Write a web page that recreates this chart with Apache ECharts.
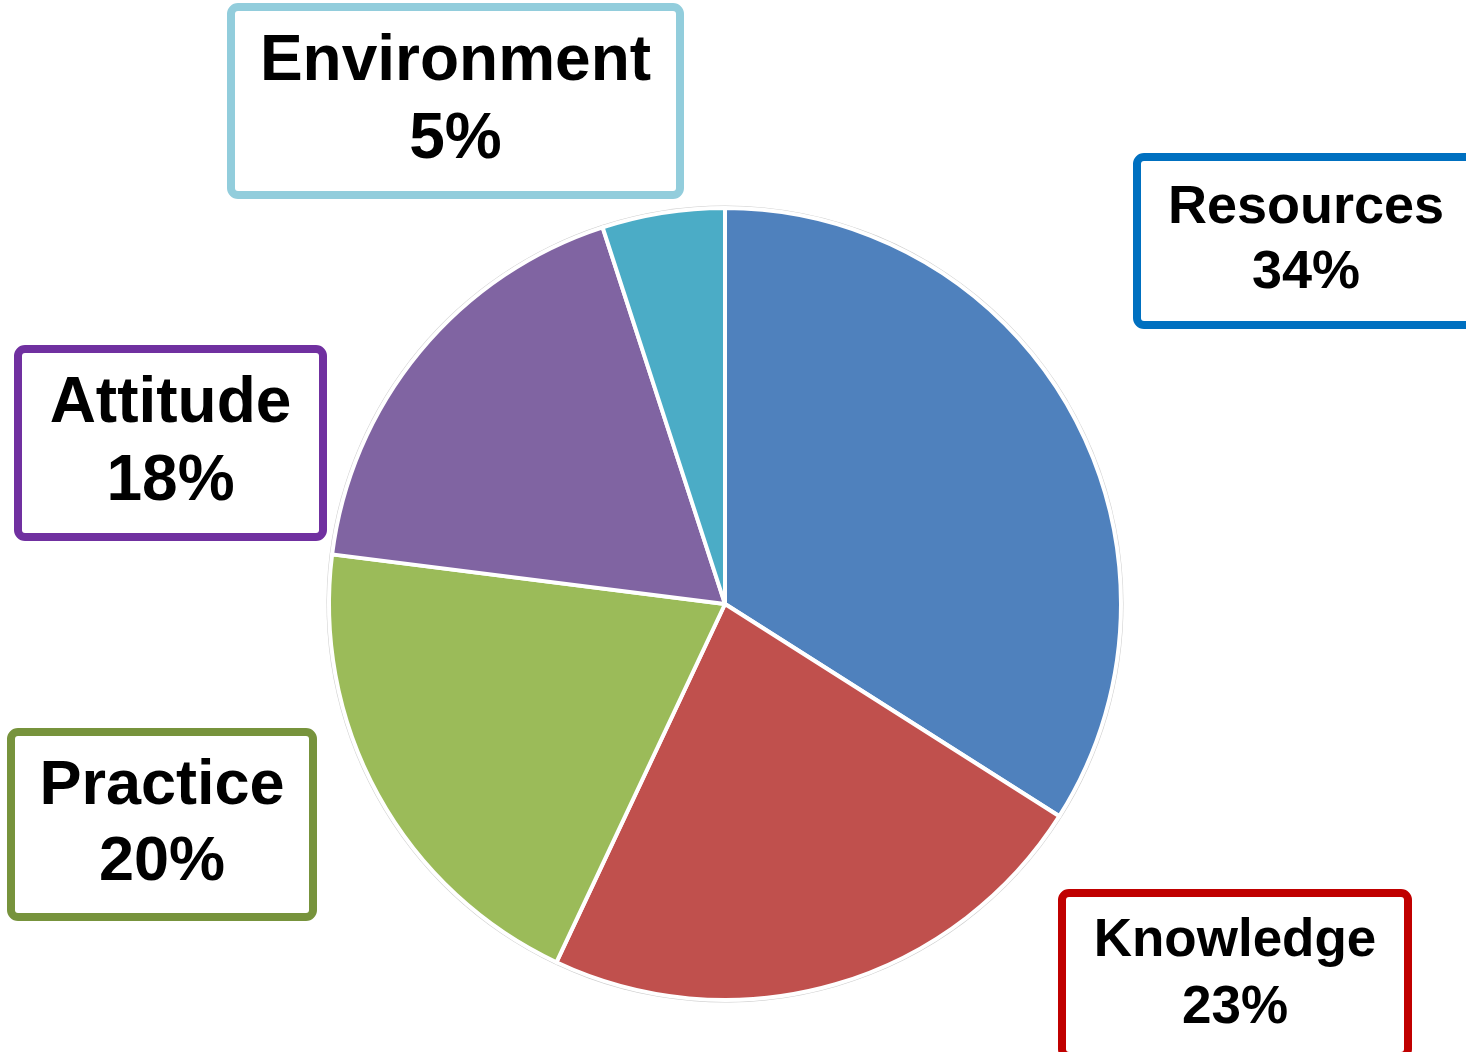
<!DOCTYPE html>
<html>
<head>
<meta charset="utf-8">
<script src="https://cdn.jsdelivr.net/npm/echarts@6/dist/echarts.min.js"></script>
<style>
html,body{margin:0;padding:0;background:#fff;}
#chart{width:1466px;height:1052px;}
</style>
</head>
<body>
<div id="chart"></div>
<script>
// ---- data ----
const categories = ['Resources', 'Knowledge', 'Practice', 'Attitude', 'Environment'];
const shares = [34, 23, 20, 18, 5];

// ---- styles ----
const sliceColors = ['#4F81BD', '#C0504D', '#9BBB59', '#8064A2', '#4BACC6'];
const boxColors = ['#0070C0', '#C00000', '#77933C', '#7030A0', '#92CDDC'];
// label box layout: [left, top, right, bottom] outer edges, font size, line height
const boxLayout = [
  [1137, 157, 1475, 325, 54, 65],
  [1062, 893, 1408, 1056, 53, 67],
  [11, 732, 313, 917, 63, 76],
  [18, 349, 323, 537, 64, 78],
  [231, 7, 680, 195, 64, 78]
];
const BW = 8;
const TEXT_SHIFT = 3;

const pieData = categories.map((name, i) => {
  const b = boxLayout[i];
  const w = b[2] - b[0] - BW;
  const h = b[3] - b[1] - BW;
  const padV = Math.max(0, (h - 2 * b[5]) / 2);
  return {
    name: name,
    value: shares[i],
    itemStyle: { color: sliceColors[i] },
    label: {
      fontSize: b[4],
      lineHeight: b[5],
      width: w,
      padding: [padV + TEXT_SHIFT, 0, padV - TEXT_SHIFT, 0],
      borderColor: boxColors[i]
    }
  };
});

const chart = echarts.init(document.getElementById('chart'), null, { renderer: 'canvas' });
chart.setOption({
  backgroundColor: '#ffffff',
  animation: false,
  series: [
    {
      type: 'pie',
      silent: true,
      center: [725, 604],
      radius: 398.5,
      startAngle: 90,
      clockwise: true,
      data: shares.map((v, i) => ({ name: categories[i], value: v })),
      itemStyle: { color: '#cdcdcd', borderWidth: 0 },
      label: { show: false },
      labelLine: { show: false },
      z: 1
    },
    {
      type: 'pie',
      center: [725, 604],
      radius: 396,
      startAngle: 90,
      clockwise: true,
      percentPrecision: 0,
      data: pieData,
      itemStyle: { borderColor: '#ffffff', borderWidth: 4 },
      label: {
        show: true,
        position: 'inside',
        formatter: p => p.name + '\n' + p.percent + '%',
        fontFamily: '"Liberation Sans", Arial, sans-serif',
        fontWeight: 'bold',
        color: '#000000',
        align: 'center',
        verticalAlign: 'middle',
        backgroundColor: '#ffffff',
        borderWidth: BW,
        borderRadius: 3,
        overflow: 'none'
      },
      labelLine: { show: false },
      labelLayout: function (params) {
        const b = boxLayout[params.dataIndex];
        return {
          x: (b[0] + b[2]) / 2,
          y: (b[1] + b[3]) / 2,
          align: 'center',
          verticalAlign: 'middle'
        };
      },
      emphasis: { disabled: true },
      z: 2
    }
  ]
});
</script>
</body>
</html>
